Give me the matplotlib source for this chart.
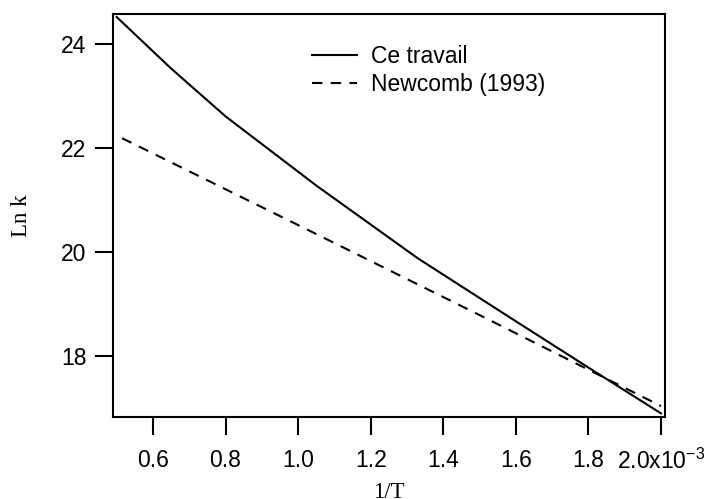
import matplotlib
matplotlib.use("Agg")
import matplotlib.pyplot as plt

plt.rcParams["font.family"] = ["Liberation Sans", "DejaVu Sans"]
plt.rcParams["mathtext.fontset"] = "custom"
plt.rcParams["mathtext.rm"] = "Liberation Sans"
plt.rcParams["mathtext.it"] = "Liberation Sans"

# 1/T in units of 1e-3 K^-1
inv_T_travail = [0.50, 0.65, 0.80, 1.05, 1.33, 1.60, 1.80, 2.00]
lnk_travail = [24.52, 23.53, 22.61, 21.28, 19.88, 18.67, 17.78, 16.90]

inv_T_newcomb = [0.515, 1.00, 1.50, 2.00]
lnk_newcomb = [22.19, 20.52, 18.79, 17.04]

x_ticks = [0.6, 0.8, 1.0, 1.2, 1.4, 1.6, 1.8, 2.0]
x_tick_labels = ["0.6", "0.8", "1.0", "1.2", "1.4", "1.6", "1.8", "2.0x10$^{-3}$"]
y_ticks = [18, 20, 22, 24]
y_tick_labels = ["18", "20", "22", "24"]

fig = plt.figure(figsize=(7.07, 4.99), dpi=100)
ax = fig.add_axes([113 / 707, 1 - 417 / 499, (665 - 113) / 707, (417 - 14) / 499])

lw = 1.5
ax.plot(inv_T_travail, lnk_travail, color="black", lw=lw, label="Ce travail")
ax.plot(inv_T_newcomb, lnk_newcomb, color="black", lw=lw, dashes=(5.0, 4.0),
        label="Newcomb (1993)")

ax.set_xlim(0.49, 2.011)
ax.set_ylim(16.83, 24.577)

ax.set_xticks(x_ticks)
ax.set_xticklabels(x_tick_labels)
ax.set_yticks(y_ticks)
ax.set_yticklabels(y_tick_labels)

for s in ax.spines.values():
    s.set_linewidth(1.5)
ax.tick_params(axis="both", direction="out", length=13, width=1.5,
               labelsize=16.5, colors="black")
ax.tick_params(axis="x", pad=10)
ax.tick_params(axis="y", pad=6)

ax.set_ylabel("Ln k", family=["Liberation Serif"], fontsize=16.5, labelpad=21)
ax.set_xlabel("1/T", family=["Liberation Serif"], fontsize=16.5, labelpad=6)

leg = ax.legend(loc="upper left", bbox_to_anchor=(0.3445, 0.945), frameon=False,
                fontsize=16.5, handlelength=1.95, handletextpad=0.6,
                labelspacing=0.22, borderaxespad=0)

fig.savefig("out.png", dpi=100)
